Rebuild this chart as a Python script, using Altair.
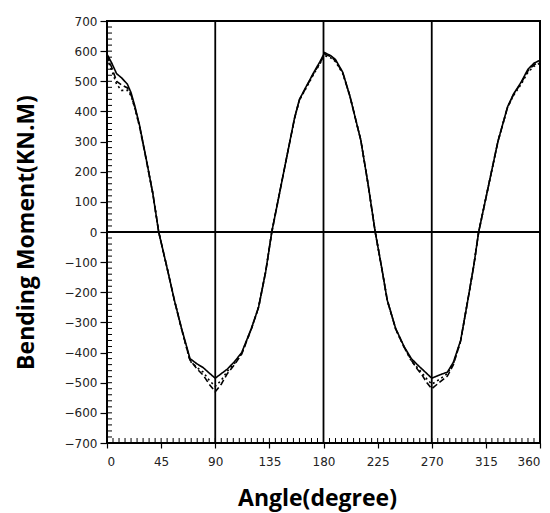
import altair as alt
import pandas as pd

# Angle (degree) sample positions
angle = [0, 4, 8, 12, 17, 20, 23, 27, 32, 38, 43, 50, 56, 62, 69, 75, 80, 85, 90,
         95, 100, 106, 112, 120, 126, 132, 137, 143, 150, 156, 160, 165, 172, 177,
         181, 186, 190, 196, 202, 211, 217, 223, 228, 233, 240, 247, 253, 258, 262,
         266, 270, 276, 283, 288, 294, 300, 305, 309, 317, 325, 333, 338, 344, 350,
         355, 360]

# Bending moment (KN.M), three curves
solid = [590, 560, 525, 512, 490, 462, 420, 355, 255, 130, 0, -120, -226, -320, -420,
         -438, -450, -468, -485, -470, -455, -430, -400, -320, -250, -130, 0, 120, 260,
         380, 440, 478, 530, 565, 595, 585, 572, 530, 450, 305, 160, 0, -110, -226, -320,
         -380, -420, -440, -455, -470, -485, -475, -465, -432, -360, -226, -110, 0, 150,
         300, 415, 458, 495, 540, 560, 570]
dashed = [585, 545, 500, 488, 478, 455, 415, 352, 252, 130, 0, -120, -226, -322, -425,
          -455, -475, -505, -530, -505, -470, -440, -405, -322, -250, -130, 0, 120, 260,
          378, 438, 476, 528, 560, 590, 582, 568, 528, 450, 305, 160, 0, -110, -226, -322,
          -382, -425, -455, -475, -500, -520, -500, -478, -440, -362, -226, -110, 0, 150,
          300, 413, 456, 492, 535, 555, 565]
dotted = [575, 535, 490, 470, 470, 452, 413, 350, 252, 130, 0, -120, -226, -322, -428,
          -450, -465, -492, -512, -492, -462, -436, -402, -322, -250, -130, 0, 120, 260,
          378, 438, 473, 525, 558, 585, 578, 565, 526, 450, 305, 160, 0, -110, -226, -322,
          -382, -428, -450, -468, -488, -505, -490, -470, -436, -362, -226, -110, 0, 150,
          300, 413, 453, 488, 530, 550, 560]

x_ticks = [0, 45, 90, 135, 180, 225, 270, 315, 360]
y_ticks = list(range(-700, 701, 100))
x_minor = list(range(0, 361, 5))
y_minor = list(range(-700, 701, 20))
v_grid = [90, 180, 270]
h_grid = [0]

rows = []
for name, vals in [("solid", solid), ("dashed", dashed), ("dotted", dotted)]:
    for a, v in zip(angle, vals):
        rows.append({"angle": a, "moment": v, "series": name})
df = pd.DataFrame(rows)

W, H = 433, 422
xs = alt.Scale(domain=[0, 360], nice=False)
ys = alt.Scale(domain=[-700, 700], nice=False)

x_axis = alt.Axis(
    values=x_ticks, title="Angle(degree)", grid=False, domain=False,
    tickSize=5, tickColor="black", tickWidth=1.2, labelPadding=8,
    labelFont="DejaVu Sans", labelFontSize=12, labelColor="#222",
    titleFont="Open Sans", titleFontSize=23, titleFontWeight="bold",
    titleColor="black", titleX=210, titleY=55, titleBaseline="middle")
y_axis = alt.Axis(
    values=y_ticks, title="Bending Moment(KN.M)", grid=False, domain=False,
    tickSize=7, tickColor="black", tickWidth=1.2, labelPadding=3,
    labelFont="DejaVu Sans", labelFontSize=12, labelColor="#222",
    titleFont="Open Sans", titleFontSize=23, titleFontWeight="bold",
    titleColor="black", titleX=-81, titleY=211, titleBaseline="middle",
    titleAngle=270, titleAlign="center")

lines = alt.Chart(df).mark_line(color="black", strokeWidth=1.6).encode(
    x=alt.X("angle:Q", scale=xs, axis=x_axis),
    y=alt.Y("moment:Q", scale=ys, axis=y_axis),
    strokeDash=alt.StrokeDash("series:N", scale=alt.Scale(
        domain=["solid", "dashed", "dotted"], range=[[1, 0], [6, 3], [2, 3]]), legend=None),
    detail="series:N",
)

vgrid = alt.Chart(pd.DataFrame({"angle": v_grid})).mark_rule(color="black", strokeWidth=1.8).encode(
    x=alt.X("angle:Q", scale=xs, axis=x_axis))
hgrid = alt.Chart(pd.DataFrame({"moment": h_grid})).mark_rule(color="black", strokeWidth=1.8).encode(
    y=alt.Y("moment:Q", scale=ys, axis=y_axis))

yminor = alt.Chart(pd.DataFrame({"moment": y_minor})).mark_rule(color="black", strokeWidth=1).encode(
    y=alt.Y("moment:Q", scale=ys, axis=y_axis), x=alt.value(0), x2=alt.value(5))
xminor = alt.Chart(pd.DataFrame({"angle": x_minor})).mark_rule(color="black", strokeWidth=1).encode(
    x=alt.X("angle:Q", scale=xs, axis=x_axis), y=alt.value(H), y2=alt.value(H - 5))

chart = alt.layer(lines, vgrid, hgrid, yminor, xminor).properties(
    width=W, height=H,
    autosize=alt.AutoSizeParams(type="none"),
    padding={"left": 99, "top": 13, "right": 2, "bottom": 70},
    background="white",
).configure_view(stroke="black", strokeWidth=2)

chart.save("out.html", embed_options={"renderer": "svg", "actions": False})
